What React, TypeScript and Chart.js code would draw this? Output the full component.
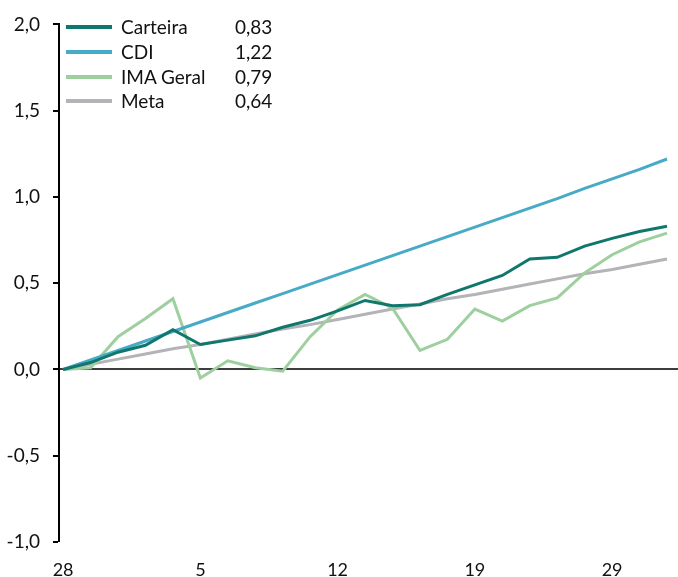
import React, { useEffect, useRef } from "react";
import { Chart, registerables } from "chart.js";

Chart.register(...registerables);

const dateLabels = ["28", "1", "2", "3", "4", "5", "8", "9", "10", "11", "12", "15", "16", "17", "18", "19", "22", "23", "24", "25", "29", "30", "31"];
const xTickIdx = [0, 5, 10, 15, 20];
const yTicks = [-1, -0.5, 0, 0.5, 1, 1.5, 2];

const carteira = [0, 0.04, 0.1, 0.14, 0.23, 0.145, 0.17, 0.195, 0.245, 0.285, 0.34, 0.4, 0.37, 0.375, 0.435, 0.49, 0.545, 0.64, 0.65, 0.715, 0.76, 0.8, 0.83];
const cdi = [0, 0.055, 0.11, 0.165, 0.22, 0.275, 0.33, 0.385, 0.44, 0.495, 0.55, 0.605, 0.66, 0.715, 0.77, 0.825, 0.88, 0.935, 0.99, 1.05, 1.105, 1.16, 1.22];
const imaGeral = [0, 0.01, 0.19, 0.295, 0.41, -0.05, 0.05, 0.01, -0.01, 0.19, 0.345, 0.435, 0.355, 0.11, 0.175, 0.35, 0.28, 0.37, 0.415, 0.56, 0.665, 0.74, 0.79];
const meta = [0, 0.03, 0.06, 0.09, 0.12, 0.145, 0.175, 0.205, 0.235, 0.26, 0.29, 0.32, 0.35, 0.38, 0.41, 0.435, 0.465, 0.495, 0.525, 0.555, 0.58, 0.61, 0.64];

const seriesNames = ["Carteira", "CDI", "IMA Geral", "Meta"];
const seriesData = [carteira, cdi, imaGeral, meta];
const seriesColors = ["#10776d", "#47aac6", "#9dcf9f", "#b3b3b8"];

const FONT = "Lato, 'Noto Sans', sans-serif";
const fmt = (v: number, d: number) => v.toFixed(d).replace(".", ",");

export default function App() {
  const ref = useRef<HTMLCanvasElement | null>(null);

  useEffect(() => {
    document.body.style.margin = "0";
    const canvas = ref.current;
    if (!canvas) return;
    const chart = new Chart(canvas, {
      type: "line",
      data: {
        datasets: seriesData.map((arr, k) => ({
          label: seriesNames[k],
          data: arr.map((v, i) => ({ x: i, y: v })),
          borderColor: seriesColors[k],
          backgroundColor: seriesColors[k],
          borderWidth: 3,
          pointRadius: 0,
          tension: 0,
          fill: false,
        })),
      },
      options: {
        responsive: false,
        animation: false,
        layout: { padding: { top: 18, left: 0, right: 0, bottom: 0 } },
        plugins: { legend: { display: false }, tooltip: { enabled: false } },
        scales: {
          x: {
            type: "linear",
            min: -0.15,
            max: 22.4,
            grid: { display: false, drawTicks: false },
            border: { display: false },
            afterBuildTicks: (s: any) => {
              s.ticks = xTickIdx.map((v) => ({ value: v }));
            },
            afterFit: (s: any) => {
              s.height = 35;
            },
            ticks: {
              padding: 17,
              color: "#111",
              font: { family: FONT, size: 18 },
              maxRotation: 0,
              autoSkip: false,
              callback: (v: any) => dateLabels[Math.round(Number(v))] ?? "",
            },
          },
          y: {
            min: -1,
            max: 2,
            afterBuildTicks: (s: any) => {
              s.ticks = yTicks.map((v) => ({ value: v }));
            },
            afterFit: (s: any) => {
              s.width = 59;
            },
            border: { display: true, color: "#000", width: 2 },
            grid: {
              drawOnChartArea: true,
              color: (ctx: any) => (ctx.tick && ctx.tick.value === 0 ? "#3d3d3d" : "rgba(0,0,0,0)"),
              lineWidth: (ctx: any) => (ctx.tick && ctx.tick.value === 0 ? 2 : 0),
              tickColor: "#000",
              tickLength: 6,
              tickWidth: 2,
            },
            ticks: {
              padding: 13,
              color: "#111",
              font: { family: FONT, size: 19 },
              callback: (v: any) => fmt(Number(v), 1),
            },
          },
        },
      },
    });
    return () => chart.destroy();
  }, []);

  const rowTops = [26.5, 51.5, 76.5, 101];

  return (
    <div style={{ position: "relative", width: 678, height: 577 }}>
      <canvas ref={ref} width={678} height={577} style={{ display: "block" }} />
      {seriesNames.map((n, k) => (
        <div
          key={n}
          style={{
            position: "absolute",
            left: 0,
            top: rowTops[k] - 12,
            height: 24,
            width: 300,
            fontFamily: FONT,
            fontSize: 19,
            color: "#111",
            lineHeight: "24px",
          }}
        >
          <span
            style={{
              position: "absolute",
              left: 66,
              top: 10,
              width: 46,
              height: 4,
              background: seriesColors[k],
            }}
          />
          <span style={{ position: "absolute", left: 121, top: 0 }}>{n}</span>
          <span style={{ position: "absolute", left: 235, top: 0 }}>
            {fmt(seriesData[k][seriesData[k].length - 1], 2)}
          </span>
        </div>
      ))}
    </div>
  );
}
